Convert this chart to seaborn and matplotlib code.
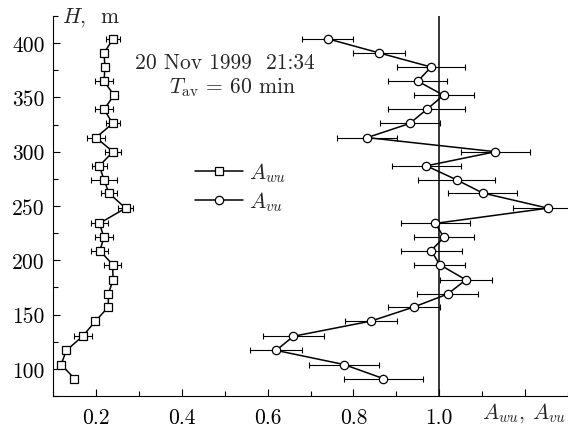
import matplotlib
matplotlib.use("Agg")
import matplotlib.pyplot as plt
from matplotlib.lines import Line2D
from matplotlib.ticker import MultipleLocator, FixedLocator
import seaborn as sns
import pandas as pd

# ---- data ----
H = [91, 104, 117, 130, 144, 157, 169, 182, 196, 209, 221, 234, 248,
     262, 274, 287, 300, 313, 326, 339, 352, 365, 378, 391, 404]
A_wu = [0.150, 0.119, 0.131, 0.169, 0.199, 0.229, 0.229, 0.240, 0.239,
        0.209, 0.219, 0.208, 0.269, 0.230, 0.219, 0.208, 0.240, 0.200,
        0.239, 0.219, 0.242, 0.219, 0.221, 0.219, 0.240]
err_wu = [0.0, 0.0, 0.0, 0.021, 0.0, 0.0, 0.0, 0.0, 0.020, 0.020, 0.021,
          0.019, 0.018, 0.018, 0.030, 0.018, 0.019, 0.020, 0.016, 0.021,
          0.0, 0.020, 0.0, 0.0, 0.016]
A_vu = [0.870, 0.778, 0.620, 0.660, 0.841, 0.941, 1.020, 1.062, 1.001,
        0.981, 1.011, 0.991, 1.253, 1.101, 1.041, 0.970, 1.131, 0.832,
        0.931, 0.971, 1.010, 0.950, 0.981, 0.860, 0.740]
err_vu = [0.091, 0.081, 0.061, 0.071, 0.060, 0.060, 0.071, 0.060, 0.060,
          0.071, 0.071, 0.081, 0.082, 0.080, 0.090, 0.080, 0.081, 0.070,
          0.070, 0.090, 0.070, 0.069, 0.080, 0.060, 0.060]
x_ticks = [0.2, 0.4, 0.6, 0.8, 1.0, 1.2]
x_ticklabels = ["0.2", "0.4", "0.6", "0.8", "1.0", ""]
y_ticks = [100, 150, 200, 250, 300, 350, 400]
title_line1 = "20 Nov 1999  21:34"
title_line2 = r"$T_{\mathrm{av}}$ = 60 min"

df = pd.DataFrame({"H": H, "A_wu": A_wu, "A_vu": A_vu})

sns.set_style("ticks")
plt.rcParams["font.family"] = ["cmr10", "DejaVu Serif"]
plt.rcParams["mathtext.fontset"] = "cm"
plt.rcParams["axes.formatter.use_mathtext"] = True
plt.rcParams["axes.unicode_minus"] = False

FS = 15.5
LW = 1.1

fig = plt.figure(figsize=(5.68, 4.31), dpi=100)
ax = fig.add_axes([53 / 568, 34 / 431, 515 / 568, 380 / 431])

ax.axvline(1.0, color="black", lw=LW, zorder=1)

ax.errorbar(A_wu, H, xerr=err_wu, fmt="none", ecolor="black",
            elinewidth=0.8, capsize=2.5, capthick=0.8, zorder=2)
ax.errorbar(A_vu, H, xerr=err_vu, fmt="none", ecolor="black",
            elinewidth=0.8, capsize=2.5, capthick=0.8, zorder=2)

sns.lineplot(data=df, x="A_wu", y="H", sort=False, estimator=None,
             errorbar=None, ax=ax, color="black",
             lw=LW, marker="s", markersize=5.3, markerfacecolor="white",
             markeredgecolor="black", markeredgewidth=0.9, zorder=3)
sns.lineplot(data=df, x="A_vu", y="H", sort=False, estimator=None,
             errorbar=None, ax=ax, color="black",
             lw=LW, marker="o", markersize=6.0, markerfacecolor="white",
             markeredgecolor="black", markeredgewidth=0.9, zorder=3)

ax.set_xlim(0.1, 1.3)
ax.set_ylim(75, 425)
ax.xaxis.set_major_locator(FixedLocator(x_ticks))
ax.set_xticklabels(x_ticklabels)
ax.xaxis.set_minor_locator(MultipleLocator(0.1))
ax.yaxis.set_major_locator(FixedLocator(y_ticks))
ax.set_yticklabels([str(v) for v in y_ticks])
ax.yaxis.set_minor_locator(MultipleLocator(25))
ax.tick_params(which="both", direction="in", width=0.8, labelsize=FS,
               colors="black")
ax.tick_params(which="major", length=5)
ax.tick_params(which="minor", length=3.5)
ax.tick_params(axis="y", pad=6)
ax.tick_params(axis="x", pad=8)
ax.set_xlabel("")
ax.set_ylabel("")
for s in ["top", "right"]:
    ax.spines[s].set_visible(False)
for s in ["left", "bottom"]:
    ax.spines[s].set_linewidth(0.8)
    ax.spines[s].set_color("black")

fig.text(62 / 568, 1 - 18 / 431, r"$H$,  m", ha="left", va="center",
         fontsize=FS)
fig.text(566 / 568, 1 - 413 / 431, r"$A_{wu}$, $A_{vu}$", ha="right",
         va="center", fontsize=FS)
fig.text(225 / 568, 1 - 63 / 431, title_line1, ha="center", va="center",
         fontsize=FS)
fig.text(232 / 568, 1 - 88 / 431, title_line2, ha="center", va="center",
         fontsize=FS)

handles = [
    Line2D([], [], color="black", lw=LW, marker="s", markersize=5.3,
           markerfacecolor="white", markeredgecolor="black",
           markeredgewidth=0.9),
    Line2D([], [], color="black", lw=LW, marker="o", markersize=6.0,
           markerfacecolor="white", markeredgecolor="black",
           markeredgewidth=0.9),
]
ax.legend(handles, [r"$A_{wu}$", r"$A_{vu}$"], loc="center",
          bbox_to_anchor=(241 / 568, 1 - 188 / 431),
          bbox_transform=fig.transFigure, frameon=False, fontsize=FS,
          handlelength=2.2, handletextpad=0.3, labelspacing=0.25)

fig.savefig("out.png", dpi=100)
